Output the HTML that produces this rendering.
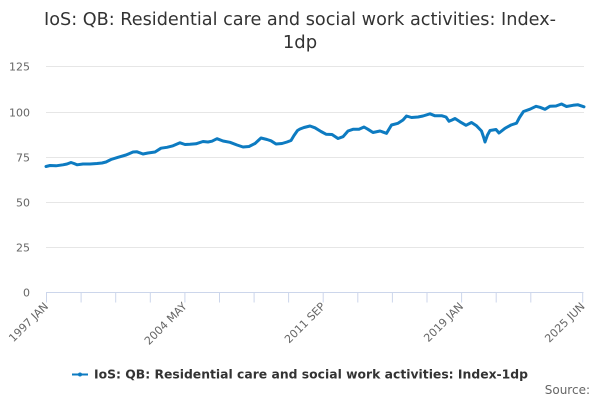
<!DOCTYPE html>
<html>
<head>
<meta charset="utf-8">
<style>
  html, body { margin: 0; padding: 0; background: #ffffff; }
  body { width: 600px; height: 400px; overflow: hidden; }
  svg { display: block; font-family: "DejaVu Sans", "Liberation Sans", sans-serif; }
</style>
</head>
<body>
<svg width="600" height="400" viewBox="0 0 600 400" xmlns="http://www.w3.org/2000/svg">
  <rect x="0" y="0" width="600" height="400" fill="#ffffff"/>

  <!-- Title -->
  <text x="300" y="25" text-anchor="middle" font-size="18" fill="#333333" textLength="512" lengthAdjust="spacingAndGlyphs">IoS: QB: Residential care and social work activities: Index-</text>
  <text x="300" y="48" text-anchor="middle" font-size="18" fill="#333333">1dp</text>

  <!-- Grid lines -->
  <g stroke="#e6e6e6" stroke-width="1" fill="none">
    <line x1="46" y1="66.5" x2="584" y2="66.5"/>
    <line x1="46" y1="112.5" x2="584" y2="112.5"/>
    <line x1="46" y1="157.5" x2="584" y2="157.5"/>
    <line x1="46" y1="202.5" x2="584" y2="202.5"/>
    <line x1="46" y1="247.5" x2="584" y2="247.5"/>
  </g>

  <!-- Y labels -->
  <g font-size="11" fill="#666666" text-anchor="end">
    <text x="30" y="70.5">125</text>
    <text x="30" y="116.5">100</text>
    <text x="30" y="161.5">75</text>
    <text x="30" y="206.5">50</text>
    <text x="30" y="251.5">25</text>
    <text x="30" y="296.5">0</text>
  </g>

  <!-- X axis -->
  <g stroke="#ccd6eb" stroke-width="1" fill="none">
    <line x1="46" y1="292.5" x2="583.5" y2="292.5"/>
    <line x1="46.5" y1="292.5" x2="46.5" y2="302.5"/>
    <line x1="81.1" y1="292.5" x2="81.1" y2="302.5"/>
    <line x1="115.7" y1="292.5" x2="115.7" y2="302.5"/>
    <line x1="150.3" y1="292.5" x2="150.3" y2="302.5"/>
    <line x1="184.9" y1="292.5" x2="184.9" y2="302.5"/>
    <line x1="219.5" y1="292.5" x2="219.5" y2="302.5"/>
    <line x1="254.1" y1="292.5" x2="254.1" y2="302.5"/>
    <line x1="288.6" y1="292.5" x2="288.6" y2="302.5"/>
    <line x1="323.2" y1="292.5" x2="323.2" y2="302.5"/>
    <line x1="357.8" y1="292.5" x2="357.8" y2="302.5"/>
    <line x1="392.4" y1="292.5" x2="392.4" y2="302.5"/>
    <line x1="427.0" y1="292.5" x2="427.0" y2="302.5"/>
    <line x1="461.6" y1="292.5" x2="461.6" y2="302.5"/>
    <line x1="496.2" y1="292.5" x2="496.2" y2="302.5"/>
    <line x1="530.8" y1="292.5" x2="530.8" y2="302.5"/>
    <line x1="582.7" y1="292.5" x2="582.7" y2="302.5"/>
  </g>

  <!-- X labels (rotated) -->
  <g font-size="11" fill="#666666" text-anchor="end">
    <text transform="translate(49,307) rotate(-45)">1997 JAN</text>
    <text transform="translate(187.5,307) rotate(-45)">2004 MAY</text>
    <text transform="translate(326,307) rotate(-45)">2011 SEP</text>
    <text transform="translate(464,307) rotate(-45)">2019 JAN</text>
    <text transform="translate(585.5,307) rotate(-45)">2025 JUN</text>
  </g>

  <!-- Series -->
  <polyline fill="none" stroke="#0d7bc1" stroke-width="3" stroke-linejoin="round" stroke-linecap="round"
    points="46,166.5 50,165.5 56,165.8 63,164.8 67,164 71,162.5 74,163.5 77,164.8 83,164 90,164 97,163.5 102,163 106,162 111,159.5 118,157.3 126,155 133,152 137,151.8 143,154 148,153 155,152 161,148.2 167,147.3 173,145.8 180,142.8 185,144.5 190,144.3 196,143.8 203,141.5 208,142 212,141.2 217,138.7 223,141 230,142.3 237,145 243,147 249,146.5 255,143.5 261,138 267,139.5 271,140.8 276,144 282,143.5 287,142 291,140.5 294,135.5 297.5,130.5 300,129 304,127.5 310,126 315,127.8 321,131.5 326,134.2 332,134.5 338,138.5 343,136.7 348,131 353,129.3 359,129.2 364,127 368,129.3 373,132.5 380,131 386.5,133.3 391.5,125 398,123.3 403,120 406.5,116 411.5,117.5 418,117 423,116 430,113.8 435,115.8 442,115.8 446,117 449,121.3 452,120 455,118.5 460,121.8 466,125.3 471.5,122.5 476.5,125.8 481.5,131 483.7,137.5 485,142 487.5,135 490,130.5 496,129.5 499,133 505,128.3 511,125 516.5,123.2 519.5,117.5 523.5,111.5 530,109.2 536,106.3 540,107.3 545,109.3 550,106.2 556,106 561.5,104 566.5,106.5 573,105.3 578,104.8 584,106.8"/>

  <!-- Legend -->
  <line x1="72" y1="374.5" x2="88" y2="374.5" stroke="#0d7bc1" stroke-width="2"/>
  <circle cx="80" cy="374.5" r="2" fill="#0d7bc1"/>
  <text x="94" y="378.5" font-size="12" font-weight="bold" fill="#333333" textLength="434" lengthAdjust="spacingAndGlyphs">IoS: QB: Residential care and social work activities: Index-1dp</text>

  <!-- Source -->
  <text x="590" y="394" font-size="12" fill="#666666" text-anchor="end">Source:</text>
</svg>
</body>
</html>
